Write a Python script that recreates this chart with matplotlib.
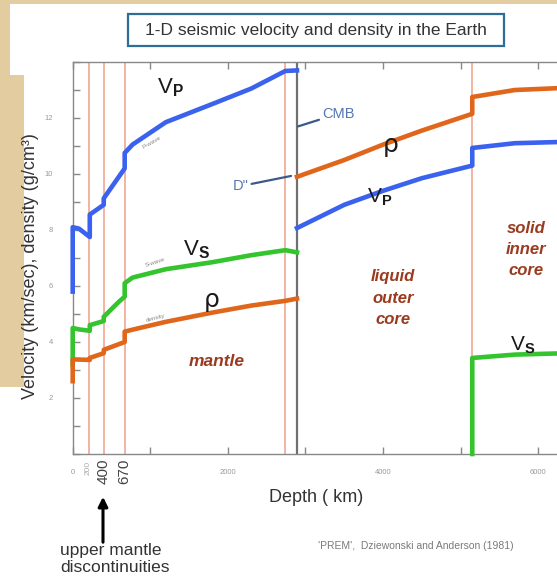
import matplotlib
matplotlib.use('Agg')
import matplotlib.pyplot as plt
from matplotlib import font_manager
from matplotlib.patches import Polygon, Rectangle

# PREM-like profiles (depth in km)
vp_mantle_depth = [0, 0, 80, 220, 220, 400, 400, 670, 670, 771, 1200, 1800, 2300, 2741, 2891]
vp_mantle = [5.8, 8.1, 8.05, 7.75, 8.55, 8.9, 9.13, 10.2, 10.75, 11.05, 11.85, 12.5, 13.05, 13.68, 13.7]

vs_mantle_depth = [0, 0, 80, 220, 220, 400, 400, 600, 670, 670, 771, 1200, 1800, 2300, 2741, 2891]
vs_mantle = [3.2, 4.5, 4.45, 4.4, 4.6, 4.75, 4.9, 5.45, 5.62, 6.1, 6.3, 6.6, 6.85, 7.1, 7.28, 7.2]

rho_mantle_depth = [0, 0, 220, 220, 400, 400, 670, 670, 771, 1200, 1800, 2300, 2741, 2891]
rho_mantle = [2.6, 3.38, 3.36, 3.43, 3.6, 3.72, 4.0, 4.37, 4.44, 4.72, 5.05, 5.3, 5.47, 5.55]

core_depth = [2891, 3500, 4000, 4500, 5150, 5150, 5700, 6371]
rho_core = [9.9, 10.5, 11.05, 11.55, 12.15, 12.75, 13.0, 13.08]
vp_core = [8.07, 8.9, 9.4, 9.85, 10.3, 10.93, 11.1, 11.15]

vs_inner_depth = [5150, 5150, 5700, 6371]
vs_inner = [0.0, 3.43, 3.55, 3.6]

disc_depths = [210, 400, 670, 2740, 5150]
cmb_depth = 2891
disc_labels = ['200', '400', '670']
disc_label_depths = [200, 400, 670]

xticks = [0, 1000, 2000, 3000, 4000, 5000, 6000]
xtick_labels = ['0', '', '2000', '', '4000', '', '6000']
yticks = list(range(0, 15))
ytick_labels = [str(v) if (v % 2 == 0 and 0 < v < 14) else '' for v in yticks]

names = {f.name for f in font_manager.fontManager.ttflist}
narrow = 'Liberation Sans Narrow' if 'Liberation Sans Narrow' in names else 'Liberation Sans'
plt.rcParams['font.family'] = ['Liberation Sans', 'DejaVu Sans']
plt.rcParams['mathtext.fontset'] = 'custom'
plt.rcParams['mathtext.rm'] = 'Liberation Sans'
plt.rcParams['mathtext.bf'] = 'Liberation Sans:bold'

W, H = 557, 579
blue, green, orange = '#3a62ee', '#33c42e', '#e0661c'
brown = '#9a3a1e'
note = '#5575b5'

fig = plt.figure(figsize=(W / 100, H / 100), dpi=100)
fig.patch.set_facecolor('#e3cca0')

# white paper area over the beige background
paper = [(10, 4), (W, 4), (W, H), (0, H), (0, 387), (24, 387), (24, 75), (10, 75)]
fig.add_artist(Polygon([(x / W, 1 - y / H) for x, y in paper], closed=True,
                       transform=fig.transFigure, fc='white', ec='none', zorder=-10))

ax = fig.add_axes([72.7 / W, 1 - 454 / H, (567 - 72.7) / W, (454 - 62) / H])
ax.set_xlim(0, 6371)
ax.set_ylim(0, 14)

for d in disc_depths:
    ax.axvline(d, color='#f0ad9c', lw=1.3, zorder=1)
ax.axvline(cmb_depth, color='#707070', lw=1.6, zorder=1)

lw = 3.3
curves = [(vp_mantle_depth, vp_mantle, blue), (vs_mantle_depth, vs_mantle, green),
          (rho_mantle_depth, rho_mantle, orange), (core_depth, rho_core, orange),
          (core_depth, vp_core, blue), (vs_inner_depth, vs_inner, green)]
for xs, ys, c in curves:
    ax.plot(xs, ys, color=c, lw=lw, zorder=3, clip_on=False)

ax.set_xticks(xticks)
ax.set_xticklabels(xtick_labels)
ax.set_yticks(yticks)
ax.set_yticklabels(ytick_labels)
ax.tick_params(direction='in', length=5, width=1, color='#888888',
               labelsize=5.5, labelcolor='#999999', top=True)
ax.tick_params(axis='x', pad=11)
ax.tick_params(axis='y', pad=14)
for s in ax.spines.values():
    s.set_color('#888888')
    s.set_linewidth(1.0)

# discontinuity depth labels under the axis
tr = ax.get_xaxis_transform()
for d, lab in zip(disc_label_depths, disc_labels):
    big = lab != '200'
    ax.text(d, -0.045 if big else -0.035, lab, transform=tr, rotation=90,
            ha='center', va='center', family=narrow,
            fontsize=11 if big else 6, color='#444444' if big else '#aaaaaa',
            clip_on=False)

# curve labels
vp_lab = r'$\mathrm{V}_\mathbf{P}$'
vs_lab = r'$\mathrm{V}_\mathbf{S}$'
ax.text(1256, 13.07, vp_lab, fontsize=16, ha='center', va='center', color='#1a1a1a')
ax.text(1591, 7.29, vs_lab, fontsize=16, ha='center', va='center', color='#1a1a1a')
ax.text(1785, 5.5, 'ρ', fontsize=18, ha='center', va='center', color='#1a1a1a', family='DejaVu Sans')
ax.text(4102, 11.04, 'ρ', fontsize=18, ha='center', va='center', color='#1a1a1a', family='DejaVu Sans')
ax.text(3960, 9.18, vp_lab, fontsize=15, ha='center', va='center', color='#1a1a1a')
ax.text(5803, 3.89, vs_lab, fontsize=15, ha='center', va='center', color='#1a1a1a')
ax.text(1022, 11.14, 'P-wave', fontsize=4.5, rotation=30, ha='center', va='center', color='#888888')
ax.text(1060, 6.86, 'S-wave', fontsize=4.5, rotation=18, ha='center', va='center', color='#888888')
ax.text(1073, 4.86, 'density', fontsize=4.5, rotation=15, ha='center', va='center', color='#888888')

# region names
ax.text(1862, 3.32, 'mantle', fontsize=12.5, style='italic', weight='bold',
        ha='center', va='center', color=brown)
ax.text(4128, 5.57, 'liquid\nouter\ncore', fontsize=12, style='italic', weight='bold',
        ha='center', va='center', color=brown, linespacing=1.55)
ax.text(5841, 7.32, 'solid\ninner\ncore', fontsize=12, style='italic', weight='bold',
        ha='center', va='center', color=brown, linespacing=1.5)

# CMB and D'' call-outs
ax.annotate('CMB', xy=(2905, 11.7), xytext=(3210, 12.15), fontsize=10.5, color=note,
            ha='left', va='center',
            arrowprops=dict(arrowstyle='-', color='#3b5a8a', lw=1.6, shrinkA=0, shrinkB=0))
ax.annotate('D"', xy=(2814, 9.93), xytext=(2270, 9.57), fontsize=10.5, color=note,
            ha='right', va='center',
            arrowprops=dict(arrowstyle='-', color='#3b5a8a', lw=1.6, shrinkA=0, shrinkB=0))

# axis titles
fig.text(31 / W, 1 - 266 / H, 'Velocity (km/sec), density (g/cm³)', rotation=90,
         ha='center', va='center', fontsize=13, color='#333333', family=narrow)
fig.text(316 / W, 1 - 498 / H, 'Depth ( km)', ha='center', va='center',
         fontsize=13, color='#333333', family=narrow)

# title box
fig.add_artist(Rectangle((128 / W, 1 - 46 / H), 376 / W, 32 / H, transform=fig.transFigure,
                         fc='white', ec='#2d6d96', lw=1.6))
fig.text(316 / W, 1 - 30 / H, '1-D seismic velocity and density in the Earth',
         ha='center', va='center', fontsize=12.5, color='#333333')

# upper mantle arrow and note
ax.annotate('', xy=(103, H - 494), xycoords='figure pixels',
            xytext=(103, H - 545), textcoords='figure pixels',
            arrowprops=dict(arrowstyle='-|>', color='black', lw=2.2, mutation_scale=14))
fig.text(60 / W, 1 - 543 / H, 'upper mantle\ndiscontinuities', ha='left', va='top',
         fontsize=12.5, color='#333333', linespacing=1.15)
fig.text(318 / W, 1 - 546 / H, "'PREM',  Dziewonski and Anderson (1981)", ha='left',
         va='center', fontsize=7.5, color='#7a7a7a', family=narrow)

fig.savefig('out.png', dpi=100, facecolor=fig.get_facecolor())
